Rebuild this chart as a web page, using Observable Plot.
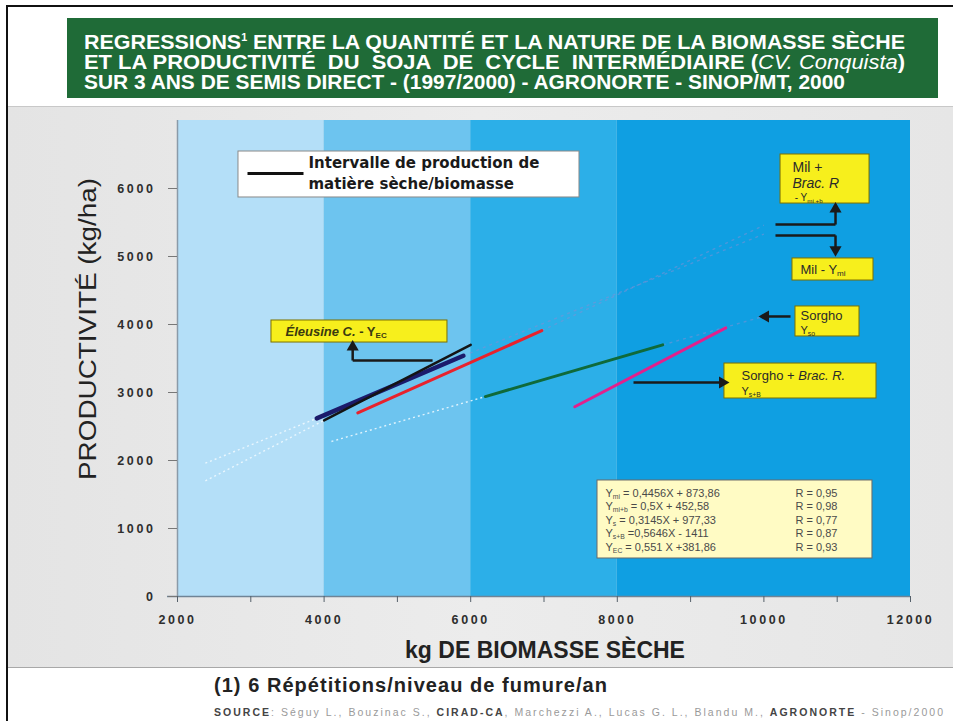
<!DOCTYPE html>
<html>
<head>
<meta charset="utf-8">
<script src="https://cdn.jsdelivr.net/npm/d3@7"></script>
<script src="https://cdn.jsdelivr.net/npm/@observablehq/plot@0.6"></script>
<style>
  html, body { margin: 0; padding: 0; background: #fff; }
  #page { position: relative; width: 953px; height: 721px; overflow: hidden; background: #fff; font-family: "Liberation Sans", Arial, sans-serif; }
  #frame { position: absolute; left: 6px; top: 5px; width: 960px; height: 730px; border-left: 2px solid #111; border-top: 2px solid #111; }
  #banner { position: absolute; left: 67px; top: 18px; width: 871px; height: 80px; background: #1f6b37; }
  .tl { position: absolute; left: 84px; color: #fff; font: bold 20px "Liberation Sans", Arial, sans-serif; line-height: 20px; white-space: pre; display: inline-block; transform-origin: 0 50%; }
  .tl sup { font-size: 10px; vertical-align: 8px; line-height: 0; }
  .tl i { font-weight: normal; }
  #panel { position: absolute; left: 8px; top: 106px; width: 945px; height: 562px; background: linear-gradient(90deg, #e4e4e4, #ececec 50%, #e6e6e6); border-top: 1px solid #c8c8c8; border-bottom: 1px solid #a8a8a8; box-sizing: border-box; }
  #chart { position: absolute; left: 0; top: 106px; }
  #ytitle { position: absolute; left: 88px; top: 329px; font: 23px "Liberation Sans", Arial, sans-serif; color: #222; white-space: nowrap; }
  #xtitle { position: absolute; left: 545px; top: 650px; transform: translate(-50%, -50%); font: bold 23px "Liberation Sans", Arial, sans-serif; color: #222; white-space: nowrap; }
  #note { position: absolute; left: 214px; top: 674px; font: bold 20px "Liberation Sans", Arial, sans-serif; color: #222; white-space: nowrap; }
  #source { position: absolute; left: 214px; top: 706px; font: 10.5px "Liberation Sans", Arial, sans-serif; color: #9a9a9a; white-space: nowrap; }
  #source b { color: #444; }
  g[aria-label="y-axis tick label"] text, g[aria-label="x-axis tick label"] text { letter-spacing: 2.6px; }
</style>
</head>
<body>
<div id="page">
  <div id="frame"></div>
  <div id="banner"></div>
  <div class="tl" id="t1" style="top:32px">REGRESSIONS<sup>1</sup> ENTRE LA QUANTITÉ ET LA NATURE DE LA BIOMASSE SÈCHE</div>
  <div class="tl" id="t2" style="top:52px">ET LA PRODUCTIVITÉ  DU  SOJA  DE  CYCLE  INTERMÉDIAIRE (<i>CV. Conquista</i>)</div>
  <div class="tl" id="t3" style="top:72px">SUR 3 ANS DE SEMIS DIRECT - (1997/2000) - AGRONORTE - SINOP/MT, 2000</div>
  <div id="panel"></div>
  <div id="chart"></div>
  <div id="ytitle">PRODUCTIVITÉ (kg/ha)</div>
  <div id="xtitle">kg DE BIOMASSE SÈCHE</div>
  <div id="note">(1) 6 Répétitions/niveau de fumure/an</div>
  <div id="source"><b>SOURCE</b>: Séguy L., Bouzinac S., <b>CIRAD-CA</b>, Marchezzi A., Lucas G. L., Blandu M., <b>AGRONORTE</b> - Sinop/2000</div>
</div>
<script>
// ---------- data ----------
const xMinorTicks = [2000, 3000, 4000, 5000, 6000, 7000, 8000, 9000, 10000, 11000, 12000];
const xTickLabels = [2000, 4000, 6000, 8000, 10000, 12000];
const yTickLabels = [0, 1000, 2000, 3000, 4000, 5000, 6000];

// background bands (biomass production intervals)
const bandStart = [2000, 4000, 6000, 8000];
const bandEnd   = [4000, 6000, 8000, 12000];

// regression segments (solid part)
const seriesNames = ["Mil", "Mil + Brac. R.", "Sorgho", "Sorgho + Brac. R.", "Éleusine C."];
const solidX1 = [3900, 4460, 6200, 7420, 4000];
const solidY1 = [2620, 2700, 2940, 2790, 2590];
const solidX2 = [5900, 6970, 8620, 9480, 6000];
const solidY2 = [3540, 3910, 3700, 3950, 3700];

// dotted extensions of the regressions
const extSeries = ["Mil", "Éleusine C.", "Sorgho", "Sorgho", "Mil", "Mil + Brac. R."];
const extX1 = [2380, 2380, 4100, 8620, 5900, 6970];
const extY1 = [1960, 1700, 2280, 3700, 3540, 3910];
const extX2 = [3900, 4000, 6200, 10000, 10000, 10000];
const extY2 = [2620, 2590, 2940, 4120, 5330, 5460];

// annotation arrows (from -> to, head at "to")
const arrowX1 = [4390, 10977, 10977, 10363, 8221];
const arrowY1 = [3470, 5470, 5310, 4118, 3147];
const arrowX2 = [4390, 10977, 10977, 10022, 9435];
const arrowY2 = [3670, 5700, 5100, 4118, 3147];
// arrow shafts without head
const shaftX1 = [5480, 10158, 10158];
const shaftY1 = [3470, 5470, 5310];
const shaftX2 = [4390, 10977, 10977];
const shaftY2 = [3470, 5470, 5310];

// yellow label boxes
const labelX1 = [3282, 10227, 10390, 10431, 9462];
const labelX2 = [5683, 11441, 11495, 11304, 11536];
const labelY1 = [3735, 5779, 4647, 3824, 2912];
const labelY2 = [4059, 6500, 4971, 4265, 3426];

// legend
const legendText = ["Intervalle de production de", "matière sèche/biomasse"];

// equations table
const eqText = ["Y_{mi} = 0,4456X + 873,86", "Y_{mi+b} = 0,5X + 452,58", "Y_{s} = 0,3145X + 977,33", "Y_{s+B} =0,5646X - 1411", "Y_{EC} = 0,551 X +381,86"];
const eqR = ["R = 0,95", "R = 0,98", "R = 0,77", "R = 0,87", "R = 0,93"];
const eqRowY = [1515, 1320, 1115, 920, 720];

// ---------- styles ----------
const bandColors = ["#b4dff8", "#6dc4ef", "#2cafe8", "#0f9fe2"];
const seriesColors = ["#1b1b6b", "#e8222c", "#0f6a3a", "#e2208c", "#141414"];
const seriesWidths = [4.5, 3, 3, 3, 2.5];

const idx = (a) => a.map((_, i) => i);
const bands = idx(bandStart);
const solids = idx(seriesNames);
const exts = idx(extSeries);
const arrows = idx(arrowX1);
const shafts = idx(shaftX1);
const labels = idx(labelX1);
const rows = idx(eqText);

const extLeft = exts.filter(i => extX1[i] < 4500);
const extRight = exts.filter(i => extX1[i] >= 4500);

const arrowRotate = (i) => {
  const dx = arrowX2[i] - arrowX1[i], dy = arrowY2[i] - arrowY1[i];
  if (Math.abs(dx) < 1) return dy > 0 ? 0 : 180;
  return dx > 0 ? 90 : -90;
};

const txt = (data, opts) => Plot.text(data, {textAnchor: "start", lineAnchor: "middle", fill: "#2a2a2a", ...opts});

const svg = Plot.plot({
  width: 953,
  height: 562,
  marginLeft: 177,
  marginRight: 43,
  marginTop: 14,
  marginBottom: 72,
  x: {domain: [2000, 12000]},
  y: {domain: [0, 7000]},
  color: {type: "identity"},
  style: {background: "transparent", fontFamily: "'Liberation Sans', Arial, sans-serif", overflow: "visible"},
  marks: [
    Plot.rect(bands, {x1: i => bandStart[i], x2: i => bandEnd[i], y1: 0, y2: 7000, fill: i => bandColors[i]}),
    // axes
    Plot.ruleY([0], {x1: 1864, x2: 12000, stroke: "#6f8496", strokeWidth: 1.5}),
    Plot.ruleX([2000], {y1: 0, y2: 7000, stroke: "#8a9aa8", strokeWidth: 1.5}),
    Plot.axisX(xMinorTicks, {tickSize: 6, tickFormat: () => "", stroke: "#55606a", label: null}),
    Plot.axisX(xTickLabels, {tickSize: 0, tickPadding: 19, tickFormat: d => String(d), fontSize: 12.5, fontWeight: "bold", fill: "#2e2e2e", label: null}),
    Plot.axisY(yTickLabels, {tickSize: 9, tickPadding: 13, tickFormat: d => String(d), fontSize: 12.5, fontWeight: "bold", fill: "#2e2e2e", stroke: "#777", label: null}),
    // dotted extensions
    Plot.link(extLeft, {x1: i => extX1[i], y1: i => extY1[i], x2: i => extX2[i], y2: i => extY2[i], stroke: "#f2faff", strokeWidth: 1.4, strokeDasharray: "2,3", strokeOpacity: 0.85}),
    Plot.link(extRight, {x1: i => extX1[i], y1: i => extY1[i], x2: i => extX2[i], y2: i => extY2[i], stroke: "#7f8fd6", strokeWidth: 1.4, strokeDasharray: "3,4", strokeOpacity: 0.55}),
    // regression segments
    Plot.link(solids, {x1: i => solidX1[i], y1: i => solidY1[i], x2: i => solidX2[i], y2: i => solidY2[i], stroke: i => seriesColors[i], strokeWidth: i => seriesWidths[i], strokeLinecap: "round"}),
    // legend
    Plot.rect([0], {x1: 2832, x2: 7484, y1: 5868, y2: 6544, fill: "#ffffff", stroke: "#8a8a8a", strokeWidth: 1}),
    Plot.link([0], {x1: 2955, x2: 3719, y1: 6221, y2: 6221, stroke: "#111", strokeWidth: 3}),
    Plot.text([0], {x: 3787, y: 6368, text: () => legendText[0], textAnchor: "start", fontSize: 15, fontWeight: "bold", fill: "#1a1a1a", fontFamily: "'DejaVu Sans', Verdana, sans-serif"}),
    Plot.text([0], {x: 3787, y: 6059, text: () => legendText[1], textAnchor: "start", fontSize: 15, fontWeight: "bold", fill: "#1a1a1a", fontFamily: "'DejaVu Sans', Verdana, sans-serif"}),
    // label boxes
    Plot.rect(labels, {x1: i => labelX1[i], x2: i => labelX2[i], y1: i => labelY1[i], y2: i => labelY2[i], fill: "#f7ef1c", stroke: "#7c7000", strokeWidth: 1}),
    // arrows
    Plot.link(shafts, {x1: i => shaftX1[i], y1: i => shaftY1[i], x2: i => shaftX2[i], y2: i => shaftY2[i], stroke: "#1a1a1a", strokeWidth: 2.5}),
    Plot.link(arrows, {x1: i => arrowX1[i], y1: i => arrowY1[i], x2: i => arrowX2[i], y2: i => arrowY2[i], stroke: "#1a1a1a", strokeWidth: 2.5}),
    Plot.dot(arrows, {x: i => arrowX2[i], y: i => arrowY2[i], symbol: "triangle", r: 4.5, fill: "#1a1a1a", rotate: i => arrowRotate(i)}),
    // label texts
    txt([0], {x: 3473, y: 3897, text: () => "~{Éleusine C.} - Y_{EC}", fontSize: 13, fontWeight: "bold", fill: "#3a3a10"}),
    txt([0], {x: 10390, y: 6309, text: () => "Mil +", fontSize: 14}),
    txt([0], {x: 10390, y: 6074, text: () => "~{Brac. R}", fontSize: 14}),
    txt([0], {x: 10420, y: 5868, text: () => "- Y_{mi +b}", fontSize: 10}),
    txt([0], {x: 10499, y: 4809, text: () => "Mil - Y_{mi}", fontSize: 13}),
    txt([0], {x: 10499, y: 4132, text: () => "Sorgho", fontSize: 13}),
    txt([0], {x: 10499, y: 3912, text: () => "Y_{so}", fontSize: 11}),
    txt([0], {x: 9694, y: 3250, text: () => "Sorgho + ~{Brac. R.}", fontSize: 13}),
    txt([0], {x: 9694, y: 3015, text: () => "Y_{s+B}", fontSize: 11}),
    // equations table
    Plot.rect([0], {x1: 7730, x2: 11481, y1: 559, y2: 1706, fill: "#fffbc4", stroke: "#6a6a6a", strokeWidth: 1}),
    txt(rows, {x: 7839, y: i => eqRowY[i], text: i => eqText[i], fontSize: 11, fill: "#4a4a4a"}),
    txt(rows, {x: 10431, y: i => eqRowY[i], text: i => eqR[i], fontSize: 11, fill: "#4a4a4a"})
  ]
});

// rich text: _{sub} subscript, ~{italic}
function rich(el) {
  const s = el.textContent;
  if (!/[_~]\{/.test(s)) return;
  el.textContent = "";
  const re = /([_~])\{([^}]*)\}/g;
  let last = 0, m, shifted = false;
  const ns = "http://www.w3.org/2000/svg";
  const add = (t, opts) => {
    const ts = document.createElementNS(ns, "tspan");
    ts.textContent = t;
    if (shifted && !(opts && opts.sub)) { ts.setAttribute("dy", "-2"); shifted = false; }
    if (opts && opts.sub) { ts.setAttribute("font-size", "62%"); ts.setAttribute("dy", "2"); shifted = true; }
    if (opts && opts.italic) ts.setAttribute("font-style", "italic");
    el.appendChild(ts);
  };
  while ((m = re.exec(s))) {
    if (m.index > last) add(s.slice(last, m.index));
    if (m[1] === "_") add(m[2], {sub: true}); else add(m[2], {italic: true});
    last = re.lastIndex;
  }
  if (last < s.length) add(s.slice(last));
}
svg.querySelectorAll("text").forEach(rich);
document.getElementById("chart").appendChild(svg);

// fit title lines to the widths seen in the picture
const titleWidths = {t1: 821, t2: 821, t3: 761};
for (const [id, w] of Object.entries(titleWidths)) {
  const el = document.getElementById(id);
  const nat = el.getBoundingClientRect().width;
  el.style.transform = `scaleX(${w / nat})`;
}
// y title: rotate and stretch to its length in the picture (302px)
const yt = document.getElementById("ytitle");
const ytNat = yt.getBoundingClientRect().width;
yt.style.transform = `translate(-50%, -50%) rotate(-90deg) scaleX(${302 / ytNat})`;
// footnote and source: letter spacing to fit their widths
const fitSpacing = (id, w) => {
  const el = document.getElementById(id);
  const nat = el.getBoundingClientRect().width;
  el.style.letterSpacing = `${Math.max(0, (w - nat) / el.textContent.length)}px`;
};
fitSpacing("note", 394);
fitSpacing("source", 731);
</script>
</body>
</html>
